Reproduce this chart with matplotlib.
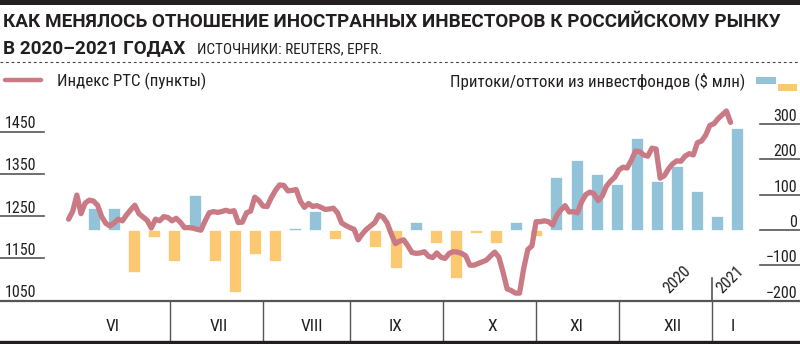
import matplotlib
matplotlib.use("Agg")
import matplotlib.pyplot as plt
from matplotlib.lines import Line2D
from matplotlib.patches import Rectangle
from matplotlib import transforms

plt.rcParams['font.family'] = ['Roboto Condensed', 'DejaVu Sans']
plt.rcParams['axes.unicode_minus'] = True

# --- данные ---
# индекс РТС по торговым дням (день 0 — конец мая 2020)
rts = [
    1243, 1262, 1300, 1256, 1281, 1288, 1286, 1276, 1249, 1233,
    1227, 1234, 1243, 1239, 1253, 1265, 1276, 1256, 1248, 1240,
    1222, 1243, 1239, 1249, 1247, 1239, 1245, 1236, 1223, 1223,
    1222, 1219, 1217, 1239, 1258, 1261, 1259, 1261, 1264, 1261,
    1263, 1235, 1236, 1258, 1262, 1295, 1287, 1274, 1273, 1294,
    1311, 1324, 1323, 1310, 1311, 1313, 1286, 1271, 1280, 1273,
    1275, 1271, 1266, 1267, 1269, 1258, 1234, 1228, 1223, 1219,
    1194, 1208, 1219, 1227, 1235, 1253, 1248, 1234, 1208, 1185,
    1191, 1194, 1180, 1164, 1162, 1163, 1166, 1155, 1152, 1163,
    1153, 1150, 1162, 1166, 1165, 1162, 1156, 1134, 1134, 1138,
    1142, 1146, 1156, 1165, 1153, 1118, 1078, 1074, 1068, 1068,
    1126, 1171, 1180, 1237, 1237, 1239, 1237, 1229, 1252, 1265,
    1275, 1260, 1261, 1258, 1284, 1301, 1307, 1303, 1287, 1298,
    1321, 1333, 1342, 1359, 1366, 1364, 1382, 1404, 1403, 1395,
    1392, 1411, 1409, 1340, 1346, 1362, 1374, 1381, 1380, 1392,
    1398, 1395, 1424, 1428, 1442, 1465, 1469, 1481, 1490, 1499,
    1472,
]

# недельные притоки/оттоки, $ млн
flows = [
    62, 62, -119, -20, -88, 99, -88, -175, -68, -88,
    5, 52, -27, 3, -47, -107, 21, -38, -137, -8,
    -38, 21, -18, 150, 198, 158, 130, 260, 138, 181,
    110, 40, 288,
]

months = ['VI', 'VII', 'VIII', 'IX', 'X', 'XI', 'XII', 'I']
rts_ticks = [1050, 1150, 1250, 1350, 1450]
flow_ticks = [-200, -100, 0, 100, 200, 300]

# --- раскладка (в торговых днях) ---
month_bounds = [24.5, 47, 68, 90.4, 112.9, 133.1, 155.4]
month_label_x = [10.7, 36.4, 58.8, 79.1, 102.3, 122.8, 146.0, 160.5]
first_week = 6.14
week_len = 4.86
bar_w = 2.9

DARK = '#231f20'
GRID = '#555555'
PINK = '#c97a85'
BLUE = '#93c3d9'
ORANGE = '#fdc872'
TITLE_FONT = ['Roboto', 'DejaVu Sans']

W, H = 800, 344
fig = plt.figure(figsize=(W / 100, H / 100), dpi=100)


def fx(px):
    return px / W


def fy(py):
    return 1 - py / H


ax = fig.add_axes([0, fy(300.7), 1, (300.7 - 90) / H])
ax_r = ax.twinx()
axm = fig.add_axes([0, fy(341.7), 1, (341.7 - 300.7) / H], sharex=ax)

for a in (ax, ax_r, axm):
    a.set_axis_off()

ax.set_xlim(-16.58, 176.79)
ax.set_ylim(-200, 395.2)
ax_r.set_ylim(1050, 1548.7)
axm.set_ylim(0, 1)

# столбики притоков/оттоков
bar_x = [first_week + i * week_len for i in range(len(flows))]
bar_c = [BLUE if v >= 0 else ORANGE for v in flows]
ax.bar(bar_x, flows, width=bar_w, color=bar_c, edgecolor='white', linewidth=0.5, zorder=2)

# линия индекса РТС
ax_r.plot(range(len(rts)), rts, color=PINK, lw=3.8, solid_joinstyle='round',
          solid_capstyle='round', zorder=3)

# шкалы: короткие линии слева и справа с подписями
left_t = transforms.blended_transform_factory(ax.transAxes, ax_r.transData)
right_t = transforms.blended_transform_factory(ax.transAxes, ax.transData)
lbl_l = transforms.offset_copy(left_t, fig=fig, x=0, y=3.5, units='dots')
lbl_r = transforms.offset_copy(right_t, fig=fig, x=0, y=3, units='dots')
for v in rts_ticks:
    ax_r.plot([0, 44 / W], [v, v], color=GRID, lw=1.2, transform=left_t, clip_on=False)
    ax_r.text(5 / W, v, f'{v}', transform=lbl_l, ha='left', va='baseline',
              fontsize=11.5, color=DARK)
for v in flow_ticks:
    ax.plot([760 / W, 1], [v, v], color=GRID, lw=1.2, transform=right_t, clip_on=False)
    ax.text(797 / W, v, f'{v}'.replace('-', '\u2212'), transform=lbl_r, ha='right',
            va='baseline', fontsize=11.5, color=DARK)

# нижняя полоса с месяцами
axm.axhline(1, color=GRID, lw=1.6, clip_on=False)
for b in month_bounds:
    axm.axvline(b, ymin=0.05, ymax=1, color=GRID, lw=1)
for x, m in zip(month_label_x, months):
    axm.text(x, 0.26, m, ha='center', va='baseline', fontsize=12.5, color=DARK)

# граница 2020/2021 и подписи лет
ax.axvline(month_bounds[-1], ymin=0, ymax=(300.7 - 278) / 210.7, color=GRID, lw=1.2)
ax_r.text(145.2, 1067, '2020', rotation=45, rotation_mode='anchor', ha='left',
          va='baseline', fontsize=11.5, color=DARK)
ax_r.text(158.0, 1067, '2021', rotation=45, rotation_mode='anchor', ha='left',
          va='baseline', fontsize=11.5, color=DARK)

# оформление: полосы, заголовок, легенда
fig.add_artist(Rectangle((0, fy(5)), 1, 5 / H, transform=fig.transFigure,
                         color=DARK, lw=0))
fig.add_artist(Line2D([0, 1], [fy(342), fy(342)], transform=fig.transFigure,
                      color=DARK, lw=2.4))
fig.add_artist(Line2D([0, 1], [fy(62), fy(62)], transform=fig.transFigure,
                      color='#444444', lw=0.8, linestyle=(0, (2.5, 2.5))))

fig.text(fx(3), fy(27), 'КАК МЕНЯЛОСЬ ОТНОШЕНИЕ ИНОСТРАННЫХ ИНВЕСТОРОВ К РОССИЙСКОМУ РЫНКУ',
         fontsize=13.6, weight='bold', color=DARK, va='baseline', family=TITLE_FONT)
fig.text(fx(3), fy(53), 'В 2020–2021 ГОДАХ', fontsize=13.6, weight='bold',
         color=DARK, va='baseline', family=TITLE_FONT)
fig.text(fx(197), fy(53), 'ИСТОЧНИКИ: REUTERS, EPFR.', fontsize=11, color=DARK,
         va='baseline')

fig.add_artist(Line2D([fx(5), fx(41)], [fy(80), fy(80)], transform=fig.transFigure,
                      color=PINK, lw=3.2, solid_capstyle='round'))
fig.text(fx(57), fy(86.5), 'Индекс РТС (пункты)', fontsize=12.2, color=DARK,
         va='baseline')
fig.text(fx(745), fy(86.5), 'Притоки/оттоки из инвестфондов ($ млн)', fontsize=12.2,
         color=DARK, va='baseline', ha='right')
fig.add_artist(Rectangle((fx(756), fy(84)), 20 / W, 7 / H, transform=fig.transFigure,
                         color=BLUE, lw=0))
fig.add_artist(Rectangle((fx(778), fy(91)), 19 / W, 7 / H, transform=fig.transFigure,
                         color=ORANGE, lw=0))

fig.savefig('out.png', dpi=100)
